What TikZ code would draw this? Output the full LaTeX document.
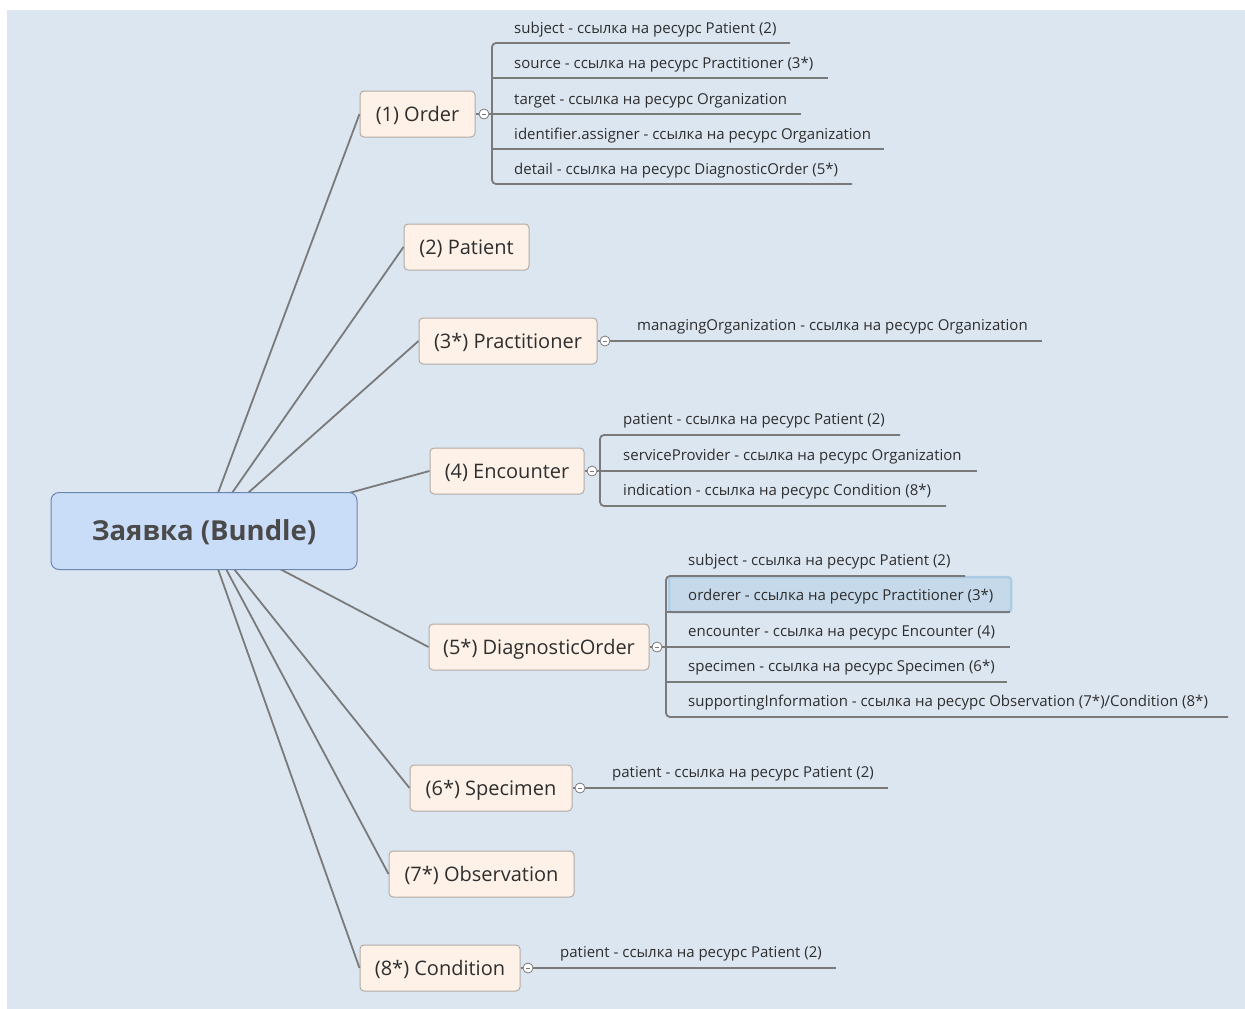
\documentclass[tikz,border=0pt]{standalone}
\usepackage{fontspec}
\setmainfont{Open Sans}
\definecolor{bg}{HTML}{DCE6F1}
\definecolor{ln}{HTML}{7A7A7A}
\definecolor{topicfill}{HTML}{FEF2E8}
\definecolor{topicdraw}{HTML}{B3ABA4}
\definecolor{rootfill}{HTML}{C9DCF8}
\definecolor{rootdraw}{HTML}{6C86B2}
\definecolor{txt}{HTML}{2E2E2E}
\definecolor{roottxt}{HTML}{4A4A4A}
\definecolor{hlfill}{HTML}{C6D9EA}
\definecolor{hldraw}{HTML}{AECBE4}
\tikzset{
  rootbox/.style={draw=rootdraw, fill=rootfill, rounded corners=8, line width=1pt,
    minimum width=306, minimum height=77, inner sep=0pt, text=roottxt,
    text height=19.6pt, text depth=0pt,
    font=\bfseries\fontsize{27.5}{32}\selectfont},
  topic/.style={draw=topicdraw, fill=topicfill, rounded corners=4, line width=1pt,
    minimum height=46, inner sep=0pt, text=txt, text height=14.3pt, text depth=0pt,
    font=\fontsize{20}{24}\selectfont},
  conn/.style={draw=ln, line width=1.8pt},
  sub/.style={draw=ln, line width=1.8pt, rounded corners=4},
  item/.style={anchor=base west, inner sep=0pt, text=txt, font=\fontsize{15}{18}\selectfont},
  toggle/.style={circle, draw=ln, fill=white, line width=0.8pt, minimum size=10, inner sep=0pt,
    path picture={\draw[ln, line width=0.7pt] ([xshift=-2.2pt]path picture bounding box.center) -- ([xshift=2.2pt]path picture bounding box.center);}}
}
\begin{document}
\begin{tikzpicture}[x=1pt,y=-1pt]
\useasboundingbox (0,0) rectangle (1245,1009);
\fill[bg] (7,10) rectangle (1245,1009);

% root anchors
\coordinate (r1) at (218,493);
\coordinate (r2) at (232,493);
\coordinate (r3) at (248,493);
\coordinate (r4) at (349,493);
\coordinate (r5) at (280,569);
\coordinate (r6) at (234,569);
\coordinate (r7) at (226,569);
\coordinate (r8) at (218,569);

% topics
\node[topic, minimum width=115] (order) at (417.5,114) {(1) Order};
\node[topic, minimum width=125] (patient) at (466.5,247) {(2) Patient};
\node[topic, minimum width=178] (pract) at (508,341) {(3*) Practitioner};
\node[topic, minimum width=154] (enc) at (507,471) {(4) Encounter};
\node[topic, minimum width=220] (dord) at (539,647) {(5*) DiagnosticOrder};
\node[topic, minimum width=162] (spec) at (491,788) {(6*) Specimen};
\node[topic, minimum width=185] (obs) at (481.5,874) {(7*) Observation};
\node[topic, minimum width=160] (cond) at (440,968) {(8*) Condition};

\draw[conn] (r1) -- (order.west);
\draw[conn] (r2) -- (patient.west);
\draw[conn] (r3) -- (pract.west);
\draw[conn] (r4) -- (enc.west);
\draw[conn] (r5) -- (dord.west);
\draw[conn] (r6) -- (spec.west);
\draw[conn] (r7) -- (obs.west);
\draw[conn] (r8) -- (cond.west);

% root (drawn over the connector ends)
\node[rootbox] (root) at (204,531) {Заявка (Bundle)};

% ---------- Order subtopics ----------
\node[toggle] (tOrder) at (484,114) {};
\draw[conn] (order.east) -- (tOrder.west);
\coordinate (oA) at (790,43);
\coordinate (oB) at (828,78);
\coordinate (oC) at (801,114);
\coordinate (oD) at (884,149);
\coordinate (oE) at (852,184);
\draw[sub] (oA) -- (492,43) -- (492,184) -- (oE);
\draw[conn] (tOrder.east) -- (oC);
\draw[conn] (492,78) -- (oB);
\draw[conn] (492,149) -- (oD);
\node[item] (o1) at (514,33) {subject - ссылка на ресурс Patient (2)};
\node[item] (o2) at (514,68) {source - ссылка на ресурс Practitioner (3*)};
\node[item] (o3) at (514,104) {target - ссылка на ресурс Organization};
\node[item] (o4) at (514,139) {identifier.assigner - ссылка на ресурс Organization};
\node[item] (o5) at (514,174) {detail - ссылка на ресурс DiagnosticOrder (5*)};

% ---------- Practitioner ----------
\node[toggle] (tPract) at (605,341) {};
\draw[conn] (pract.east) -- (tPract.west);
\coordinate (pA) at (1042,341);
\draw[conn] (tPract.east) -- (pA);
\node[item] (p1) at (637,330) {managingOrganization - ссылка на ресурс Organization};

% ---------- Encounter ----------
\node[toggle] (tEnc) at (592,471) {};
\draw[conn] (enc.east) -- (tEnc.west);
\coordinate (eA) at (900,435);
\coordinate (eB) at (977,471);
\coordinate (eC) at (946,506);
\draw[sub] (eA) -- (600,435) -- (600,506) -- (eC);
\draw[conn] (tEnc.east) -- (eB);
\node[item] (e1) at (623,424) {patient - ссылка на ресурс Patient (2)};
\node[item] (e2) at (623,460) {serviceProvider - ссылка на ресурс Organization};
\node[item] (e3) at (623,495) {indication - ссылка на ресурс Condition (8*)};

% ---------- DiagnosticOrder ----------
\node[toggle] (tDord) at (657,647) {};
\draw[conn] (dord.east) -- (tDord.west);
\fill[hlfill, draw=hldraw, line width=2.5pt, rounded corners=3] (669,577) rectangle (1011,612);
\coordinate (dA) at (965,576);
\coordinate (dB) at (1010,612);
\coordinate (dC) at (1010,647);
\coordinate (dD) at (1007,682);
\coordinate (dE) at (1228,717);
\draw[sub] (dA) -- (666,576) -- (666,717) -- (dE);
\draw[conn] (666,612) -- (dB);
\draw[conn] (tDord.east) -- (dC);
\draw[conn] (666,682) -- (dD);
\node[item] (d1) at (688,565) {subject - ссылка на ресурс Patient (2)};
\node[item] (d2) at (688,600) {orderer - ссылка на ресурс Practitioner (3*)};
\node[item] (d3) at (688,636) {encounter - ссылка на ресурс Encounter (4)};
\node[item] (d4) at (688,671) {specimen - ссылка на ресурс Specimen (6*)};
\node[item] (d5) at (688,706) {supportingInformation - ссылка на ресурс Observation (7*)/Condition (8*)};

% ---------- Specimen ----------
\node[toggle] (tSpec) at (580,788) {};
\draw[conn] (spec.east) -- (tSpec.west);
\coordinate (sA) at (888,788);
\draw[conn] (tSpec.east) -- (sA);
\node[item] (s1) at (612,777) {patient - ссылка на ресурс Patient (2)};

% ---------- Condition ----------
\node[toggle] (tCond) at (528,968) {};
\draw[conn] (cond.east) -- (tCond.west);
\coordinate (cA) at (836,968);
\draw[conn] (tCond.east) -- (cA);
\node[item] (c1) at (560,957) {patient - ссылка на ресурс Patient (2)};
\end{tikzpicture}
\end{document}
